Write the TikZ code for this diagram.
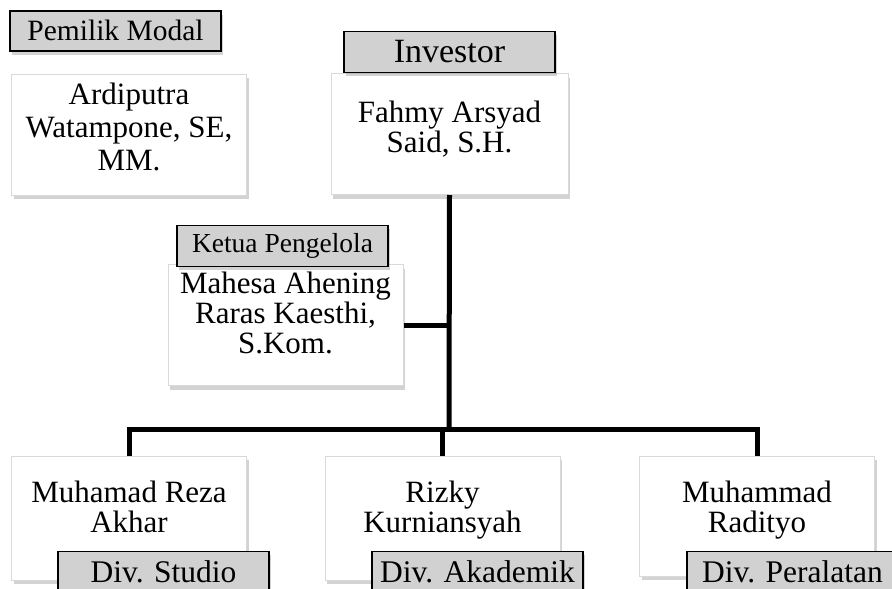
\documentclass[tikz,border=0pt]{standalone}
\usepackage{fontspec}
\setmainfont{Liberation Serif}
\usetikzlibrary{positioning,shadows}

\tikzset{
  boxshadow/.style={drop shadow={shadow xshift=2pt,shadow yshift=-4pt,opacity=0.35}},
  person/.style={draw=black!15,line width=1pt,fill=white,boxshadow,
    minimum width=235pt,minimum height=121pt,inner sep=0pt,align=center,
    font=\fontsize{31}{30}\selectfont},
  role/.style={draw=black,line width=1.5pt,fill=black!18,boxshadow,
    minimum width=211pt,minimum height=40pt,inner sep=0pt,
    font=\fontsize{29.5}{30}\selectfont},
  link/.style={line width=5pt}
}

\begin{document}
\begin{tikzpicture}[x=1pt,y=-1pt]
\useasboundingbox (0,0) rectangle (892,589);
\clip (0,0) rectangle (892,589);

% people
\node[person,font=\fontsize{31}{33}\selectfont,text depth=16pt] (own) at (129,134.5) {Ardiputra\\Watampone, SE,\\MM.};
\node[person,minimum width=237pt,text depth=14pt] (inv) at (449.5,134) {Fahmy Arsyad\\Said, S.H.};
\node[person,text depth=24pt] (mgr) at (285.5,325) {Mahesa Ahening\\Raras Kaesthi,\\S.Kom.};
\node[person,minimum height=124pt,text depth=22pt] (stu) at (129,518) {Muhamad Reza\\Akhar};
\node[person,minimum height=124pt,text depth=22pt] (aka) at (442.5,518) {Rizky\\Kurniansyah};
\node[person,minimum height=120pt,text depth=18pt] (alat) at (757,516) {Muhammad\\Radityo};

% roles
\node[role,above=22pt of own,xshift=-13.5pt] (ownlbl) {Pemilik Modal};
\node[role,minimum height=41pt,above=0pt of inv,font=\fontsize{34}{34}\selectfont] (invlbl) {Investor};
\node[role,minimum height=41pt,above=-3pt of mgr,xshift=-3pt,font=\fontsize{27.5}{30}\selectfont] (mgrlbl) {Ketua Pengelola};
\node[role,minimum height=41pt,below=-30pt of stu,xshift=34.5pt,font=\fontsize{31.5}{32}\selectfont] (stulbl) {Div. Studio};
\node[role,minimum height=41pt,below=-30pt of aka,xshift=35pt,font=\fontsize{31.5}{32}\selectfont] (akalbl) {Div. Akademik};
\node[role,minimum height=41pt,below=-26pt of alat,xshift=35.5pt,font=\fontsize{31.5}{32}\selectfont] (alatlbl) {Div. Peralatan};

% lines
\coordinate (hub) at (449,429);
\draw[link] (inv.south) -- (hub);
\draw[link] (mgr.east) -- (mgr.east -| hub);
\draw[link] (stu.north) -- (stu.north |- hub) -- (alat.north |- hub) -- (alat.north);
\draw[link] (aka.north) -- (aka.north |- hub);
\end{tikzpicture}
\end{document}
